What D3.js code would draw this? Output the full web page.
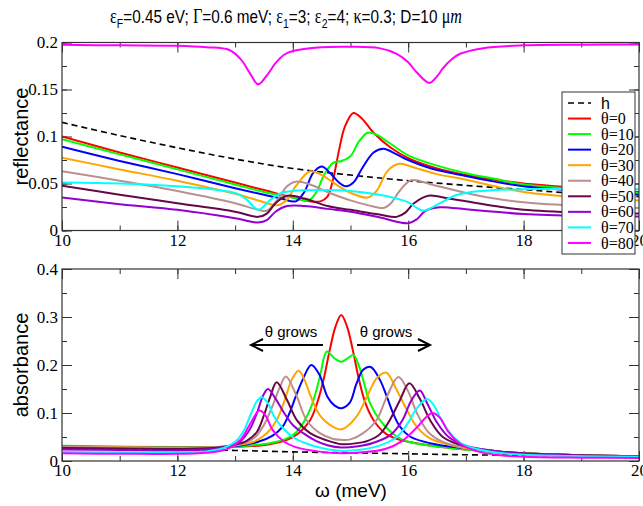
<!DOCTYPE html>
<html>
<head>
<meta charset="utf-8">
<script src="https://cdn.jsdelivr.net/npm/d3@7"></script>
<style>
  body { margin: 0; background: #fff; }
  svg { display: block; }
</style>
</head>
<body>
<svg id="chart" width="643" height="506"></svg>
<script>
// series labels / tick values
const thetas = [0, 10, 20, 30, 40, 50, 60, 70, 80];
const xTicks = [10, 12, 14, 16, 18, 20];
const reflTicks = [0, 0.05, 0.1, 0.15, 0.2];
const absTicks = [0, 0.1, 0.2, 0.3, 0.4];

// reflectance, [omega (meV), value]
const reflH = [[10,0.115],[11,0.101],[12,0.088],[13,0.076],[14,0.066],[15,0.059],[16,0.053],[17,0.048],[18,0.0435],[19,0.039],[20,0.036]];
const refl0 = [[10,0.100],[11,0.083],[12,0.067],[13,0.051],[13.5,0.043],[14,0.035],[14.3,0.031],[14.48,0.031],[14.6,0.036],[14.7,0.055],[14.8,0.085],[14.9,0.110],[15.05,0.125],[15.2,0.119],[15.4,0.104],[15.7,0.088],[16,0.077],[16.5,0.066],[17,0.059],[17.5,0.054],[18,0.050],[19,0.045],[20,0.041]];
const refl10 = [[10,0.097],[11,0.081],[12,0.065],[13,0.049],[13.5,0.041],[14,0.035],[14.27,0.032],[14.4,0.040],[14.55,0.060],[14.7,0.072],[14.85,0.074],[15,0.079],[15.15,0.095],[15.3,0.104],[15.45,0.102],[15.7,0.092],[16,0.080],[16.5,0.069],[17,0.061],[17.5,0.055],[18,0.049],[19,0.044],[20,0.040]];
const refl20 = [[10,0.089],[11,0.074],[12,0.060],[13,0.045],[13.5,0.038],[13.8,0.034],[14.05,0.031],[14.2,0.041],[14.35,0.061],[14.5,0.068],[14.65,0.061],[14.8,0.051],[14.92,0.047],[15.05,0.051],[15.2,0.066],[15.4,0.083],[15.57,0.087],[15.8,0.081],[16,0.075],[16.4,0.066],[17,0.058],[17.5,0.052],[18,0.047],[19,0.042],[20,0.038]];
const refl30 = [[10,0.0775],[11,0.065],[12,0.053],[13,0.039],[13.4,0.032],[13.75,0.027],[13.9,0.033],[14.05,0.047],[14.3,0.063],[14.5,0.059],[14.8,0.047],[15,0.040],[15.3,0.035],[15.45,0.042],[15.65,0.064],[15.85,0.071],[16.1,0.067],[16.5,0.060],[17,0.054],[17.5,0.047],[18,0.041],[19,0.035],[20,0.032]];
const refl40 = [[10,0.063],[11,0.053],[12,0.042],[13,0.029],[13.4,0.022],[13.55,0.021],[13.75,0.034],[13.9,0.047],[14.05,0.052],[14.3,0.049],[14.6,0.041],[15,0.032],[15.3,0.027],[15.57,0.024],[15.7,0.029],[15.85,0.042],[16.05,0.0535],[16.4,0.049],[17,0.040],[17.5,0.034],[18,0.030],[19,0.026],[20,0.024]];
const refl50 = [[10,0.0477],[11,0.038],[12,0.029],[13,0.020],[13.4,0.0145],[13.55,0.018],[13.7,0.029],[13.9,0.037],[14.2,0.034],[14.6,0.026],[15,0.022],[15.5,0.017],[15.8,0.0145],[15.95,0.019],[16.1,0.029],[16.35,0.037],[16.7,0.034],[17,0.031],[17.5,0.026],[18,0.022],[19,0.019],[20,0.018]];
const refl60 = [[10,0.035],[11,0.028],[12,0.022],[13,0.013],[13.4,0.0085],[13.55,0.011],[13.7,0.020],[13.9,0.026],[14.2,0.026],[14.6,0.023],[15,0.020],[15.5,0.014],[16,0.0078],[16.15,0.012],[16.3,0.021],[16.55,0.0247],[17,0.0225],[17.5,0.020],[18,0.0175],[19,0.0155],[20,0.015]];
const refl70 = [[10,0.051],[11,0.050],[12,0.047],[12.7,0.043],[13,0.040],[13.2,0.033],[13.4,0.022],[13.6,0.032],[13.8,0.040],[14,0.042],[14.5,0.043],[15,0.042],[15.5,0.038],[15.8,0.034],[16,0.030],[16.15,0.024],[16.26,0.021],[16.4,0.024],[16.55,0.029],[16.8,0.037],[17,0.040],[17.5,0.043],[18,0.044],[19,0.044],[20,0.044]];
const refl80 = [[10,0.1975],[11,0.197],[12,0.1966],[12.5,0.195],[12.9,0.192],[13.1,0.182],[13.25,0.168],[13.4,0.1555],[13.55,0.165],[13.7,0.178],[13.85,0.187],[14,0.191],[14.5,0.195],[15,0.1955],[15.5,0.194],[15.8,0.188],[16,0.179],[16.15,0.168],[16.37,0.157],[16.5,0.164],[16.6,0.1725],[16.75,0.182],[16.9,0.188],[17.3,0.194],[18,0.197],[19,0.1977],[20,0.198]];

// absorbance, [omega (meV), value]
const absH = [[10,0.027],[11,0.025],[12,0.0235],[13,0.022],[14,0.019],[15,0.017],[16,0.015],[17,0.013],[18,0.012],[19,0.011],[20,0.010]];
const abs0 = [[10,0.031],[11,0.029],[12,0.028],[12.8,0.029],[13.3,0.031],[13.6,0.035],[13.9,0.044],[14.1,0.058],[14.3,0.085],[14.42,0.12],[14.53,0.168],[14.64,0.231],[14.74,0.28],[14.84,0.304],[14.94,0.28],[15.04,0.231],[15.15,0.168],[15.26,0.12],[15.4,0.085],[15.6,0.058],[15.8,0.046],[16,0.040],[16.5,0.030],[17,0.024],[17.5,0.019],[18,0.016],[19,0.012],[20,0.010]];
const abs10 = [[10,0.032],[11,0.030],[12,0.029],[13,0.030],[13.3,0.033],[13.6,0.037],[13.9,0.047],[14.07,0.061],[14.24,0.092],[14.36,0.127],[14.47,0.176],[14.59,0.228],[14.72,0.214],[14.84,0.207],[14.95,0.214],[15.05,0.221],[15.14,0.2],[15.22,0.169],[15.34,0.12],[15.51,0.085],[15.8,0.051],[16,0.040],[16.5,0.030],[17,0.024],[17.5,0.019],[18,0.016],[19,0.012],[20,0.010]];
const abs20 = [[10,0.030],[11,0.029],[12,0.028],[13,0.031],[13.4,0.040],[13.65,0.053],[13.82,0.071],[13.94,0.099],[14.05,0.134],[14.17,0.169],[14.32,0.200],[14.46,0.18],[14.6,0.134],[14.72,0.116],[14.85,0.110],[14.99,0.122],[15.1,0.160],[15.22,0.19],[15.35,0.196],[15.51,0.169],[15.63,0.134],[15.74,0.099],[15.86,0.071],[16.03,0.051],[16.38,0.037],[17,0.026],[17.5,0.020],[18,0.016],[19,0.012],[20,0.010]];
const abs30 = [[10,0.030],[11,0.029],[12,0.028],[12.8,0.030],[13.32,0.040],[13.55,0.058],[13.72,0.085],[13.86,0.127],[13.98,0.169],[14.1,0.188],[14.2,0.17],[14.3,0.138],[14.47,0.095],[14.7,0.071],[14.85,0.066],[15.1,0.092],[15.34,0.148],[15.45,0.172],[15.62,0.184],[15.8,0.148],[15.98,0.106],[16.15,0.071],[16.38,0.047],[16.96,0.027],[17.5,0.020],[18,0.016],[19,0.012],[20,0.010]];
const abs40 = [[10,0.029],[11,0.028],[12,0.027],[12.7,0.029],[13.15,0.037],[13.35,0.05],[13.5,0.075],[13.65,0.115],[13.78,0.155],[13.88,0.176],[14.05,0.14],[14.24,0.085],[14.47,0.058],[14.7,0.046],[14.85,0.044],[15.0,0.045],[15.22,0.058],[15.45,0.085],[15.63,0.134],[15.83,0.175],[16.0,0.145],[16.15,0.10],[16.35,0.06],[16.6,0.04],[17,0.028],[17.5,0.020],[18,0.016],[19,0.012],[20,0.010]];
const abs50 = [[10,0.027],[11,0.026],[12,0.025],[12.6,0.027],[13.0,0.034],[13.2,0.042],[13.38,0.061],[13.49,0.092],[13.61,0.134],[13.72,0.164],[13.9,0.127],[14.07,0.085],[14.3,0.058],[14.59,0.043],[14.85,0.035],[15.1,0.037],[15.3,0.042],[15.51,0.056],[15.68,0.085],[15.85,0.125],[16.02,0.162],[16.2,0.13],[16.38,0.085],[16.6,0.05],[17,0.030],[17.5,0.021],[18,0.016],[19,0.012],[20,0.010]];
const abs60 = [[10,0.024],[11,0.023],[12,0.022],[12.6,0.025],[12.9,0.031],[13.1,0.042],[13.25,0.065],[13.38,0.1],[13.48,0.135],[13.57,0.150],[13.7,0.13],[13.85,0.1],[14.0,0.075],[14.18,0.058],[14.4,0.042],[14.6,0.033],[14.85,0.028],[15.1,0.030],[15.4,0.038],[15.7,0.055],[15.9,0.085],[16.05,0.125],[16.2,0.147],[16.33,0.12],[16.5,0.08],[16.7,0.05],[17,0.032],[17.5,0.021],[18,0.015],[19,0.011],[20,0.009]];
const abs70 = [[10,0.019],[11,0.018],[12,0.018],[12.5,0.020],[12.8,0.027],[13.0,0.04],[13.15,0.063],[13.28,0.1],[13.38,0.125],[13.46,0.133],[13.56,0.122],[13.7,0.088],[14.0,0.05],[14.2,0.038],[14.5,0.027],[14.85,0.021],[15.2,0.024],[15.5,0.032],[15.8,0.05],[16.0,0.08],[16.15,0.11],[16.33,0.129],[16.45,0.115],[16.6,0.08],[16.8,0.048],[17,0.032],[17.5,0.018],[18,0.013],[19,0.010],[20,0.009]];
const abs80 = [[10,0.016],[11,0.015],[12,0.015],[12.6,0.018],[12.9,0.027],[13.1,0.045],[13.25,0.075],[13.42,0.105],[13.52,0.096],[13.65,0.065],[13.85,0.04],[14.05,0.029],[14.5,0.019],[14.85,0.016],[15.2,0.018],[15.6,0.025],[15.9,0.042],[16.15,0.07],[16.3,0.09],[16.42,0.10],[16.55,0.09],[16.7,0.06],[16.9,0.036],[17.2,0.02],[17.6,0.012],[18,0.009],[19,0.007],[20,0.006]];

const reflSeries = [refl0, refl10, refl20, refl30, refl40, refl50, refl60, refl70, refl80];
const absSeries = [abs0, abs10, abs20, abs30, abs40, abs50, abs60, abs70, abs80];
const colors = ["#ff0000", "#00ff00", "#0000ff", "#ffa500", "#bc8f8f", "#670748", "#9400d3", "#00ffff", "#ff00ff"];

const svg = d3.select("#chart");
const sans = "'Liberation Sans', Arial, Helvetica, sans-serif";
const serif = "'Liberation Serif', 'Times New Roman', serif";

const x = d3.scaleLinear().domain([10, 20]).range([62, 639]);

const panels = [
    { y: d3.scaleLinear().domain([0, 0.2]).range([230.5, 42.5]), ticks: reflTicks, minor: 0.025, h: reflH, series: reflSeries, label: "reflectance", id: "top" },
    { y: d3.scaleLinear().domain([0, 0.4]).range([461, 269]), ticks: absTicks, minor: 0.05, h: absH, series: absSeries, label: "absorbance", id: "bot" }
];

const line = (y) => d3.line()
    .x(d => x(d[0]))
    .y(d => y(d[1]))
    .curve(d3.curveCatmullRom.alpha(0.5));

// style tick marks and labels after each axis call
const styleAxis = (sel) => {
    sel.select(".domain").remove();
    sel.selectAll(".tick line").attr("stroke", "#333");
    sel.selectAll(".tick text")
        .attr("fill", "#000")
        .style("font-family", serif)
        .style("font-size", "17px");
};

panels.forEach(p => {
    const [y0, y1] = p.y.range();
    const g = svg.append("g");

    svg.append("clipPath").attr("id", "clip-" + p.id)
        .append("rect")
        .attr("x", x(10)).attr("y", y1)
        .attr("width", x(20) - x(10)).attr("height", y0 - y1);

    const minorX = d3.range(10, 20.01, 1);
    const minorY = d3.range(0, p.y.domain()[1] + 1e-9, p.minor);

    // minor ticks on all four sides
    const noLabel = () => "";
    g.append("g").attr("transform", `translate(0,${y0})`)
        .call(d3.axisBottom(x).tickValues(minorX).tickSizeInner(-5).tickSizeOuter(0).tickFormat(noLabel)).call(styleAxis);
    g.append("g").attr("transform", `translate(0,${y1})`)
        .call(d3.axisTop(x).tickValues(minorX).tickSizeInner(-5).tickSizeOuter(0).tickFormat(noLabel)).call(styleAxis);
    g.append("g").attr("transform", `translate(${x(10)},0)`)
        .call(d3.axisLeft(p.y).tickValues(minorY).tickSizeInner(-5).tickSizeOuter(0).tickFormat(noLabel)).call(styleAxis);
    g.append("g").attr("transform", `translate(${x(20)},0)`)
        .call(d3.axisRight(p.y).tickValues(minorY).tickSizeInner(-5).tickSizeOuter(0).tickFormat(noLabel)).call(styleAxis);

    // major ticks
    g.append("g").attr("transform", `translate(0,${y0})`)
        .call(d3.axisBottom(x).tickValues(xTicks).tickSizeInner(-10).tickSizeOuter(0).tickPadding(3).tickFormat(d => String(d))).call(styleAxis);
    g.append("g").attr("transform", `translate(0,${y1})`)
        .call(d3.axisTop(x).tickValues(xTicks).tickSizeInner(-10).tickSizeOuter(0).tickFormat(noLabel)).call(styleAxis);
    g.append("g").attr("transform", `translate(${x(10)},0)`)
        .call(d3.axisLeft(p.y).tickValues(p.ticks).tickSizeInner(-10).tickSizeOuter(0).tickPadding(4).tickFormat(d => String(d))).call(styleAxis);
    g.append("g").attr("transform", `translate(${x(20)},0)`)
        .call(d3.axisRight(p.y).tickValues(p.ticks).tickSizeInner(-10).tickSizeOuter(0).tickFormat(noLabel)).call(styleAxis);

    const plot = svg.append("g").attr("clip-path", `url(#clip-${p.id})`);

    plot.append("path")
        .datum(p.h)
        .attr("fill", "none")
        .attr("stroke", "#000")
        .attr("stroke-width", 1.6)
        .attr("stroke-dasharray", "6,4")
        .attr("d", line(p.y));

    plot.selectAll("path.theta")
        .data(p.series)
        .join("path")
        .attr("class", "theta")
        .attr("fill", "none")
        .attr("stroke", (d, i) => colors[i])
        .attr("stroke-width", 2)
        .attr("d", line(p.y));

    svg.append("rect")
        .attr("x", x(10)).attr("y", y1)
        .attr("width", x(20) - x(10)).attr("height", y0 - y1)
        .attr("fill", "none").attr("stroke", "#333").attr("stroke-width", 1.2);

    svg.append("text")
        .attr("transform", `translate(28,${(y0 + y1) / 2}) rotate(-90)`)
        .attr("text-anchor", "middle")
        .style("font-family", sans).style("font-size", "20px")
        .text(p.label);
});

// x axis title
svg.append("text")
    .attr("x", 351).attr("y", 497)
    .attr("text-anchor", "middle")
    .style("font-family", sans).style("font-size", "19px")
    .text("ω (meV)");

// title (the original is horizontally condensed)
const title = svg.append("text")
    .attr("x", 110).attr("y", 23)
    .attr("textLength", 352)
    .attr("lengthAdjust", "spacingAndGlyphs")
    .style("font-family", sans).style("font-size", "19px");
const parts = [
    ["ε", "g"], ["F", "sub"], ["=0.45 eV; ", ""], ["Γ", "g"], ["=0.6 meV; ", ""],
    ["ε", "g"], ["1", "sub"], ["=3; ", ""], ["ε", "g"], ["2", "sub"], ["=4; ", ""],
    ["κ", "g"], ["=0.3; D=10 ", ""], ["μ", "g"], ["m", "it"]
];
let shifted = false;
parts.forEach(([t, kind]) => {
    const ts = title.append("tspan").text(t);
    if (kind === "g") ts.style("font-family", serif).style("font-size", "20px");
    if (kind === "it") ts.style("font-family", serif).style("font-style", "italic").style("font-size", "20px");
    if (kind === "sub") { ts.attr("dy", 5).style("font-size", "13px"); shifted = true; }
    else if (shifted) { ts.attr("dy", -5); shifted = false; }
});

// "theta grows" annotations
const ann = svg.append("g").attr("stroke", "#000").attr("stroke-width", 2).attr("fill", "none");
ann.append("line").attr("x1", 323).attr("y1", 345).attr("x2", 252).attr("y2", 345);
ann.append("polyline").attr("points", "263,339 251,345 263,351");
ann.append("line").attr("x1", 357).attr("y1", 345).attr("x2", 429).attr("y2", 345);
ann.append("polyline").attr("points", "418,339 430,345 418,351");
[[291, 337], [386, 337]].forEach(([tx, ty]) => {
    svg.append("text").attr("x", tx).attr("y", ty)
        .attr("text-anchor", "middle")
        .style("font-family", sans).style("font-size", "15px")
        .text("θ grows");
});

// legend
const legend = svg.append("g");
legend.append("rect")
    .attr("x", 562).attr("y", 92).attr("width", 73).attr("height", 162)
    .attr("fill", "#fff").attr("stroke", "#333").attr("stroke-width", 1);
const entries = [{ label: "h", color: "#000", dash: "6,4", font: sans }]
    .concat(thetas.map((t, i) => ({ label: "θ=" + t, color: colors[i], dash: null, font: serif })));
entries.forEach((e, i) => {
    const yy = 103 + i * 15.55;
    legend.append("line")
        .attr("x1", 568).attr("x2", 591).attr("y1", yy).attr("y2", yy)
        .attr("stroke", e.color).attr("stroke-width", e.dash ? 1.6 : 2)
        .attr("stroke-dasharray", e.dash);
    legend.append("text")
        .attr("x", 601).attr("y", yy).attr("dy", "0.35em")
        .style("font-family", e.font).style("font-size", "16px")
        .text(e.label);
});
</script>
</body>
</html>
